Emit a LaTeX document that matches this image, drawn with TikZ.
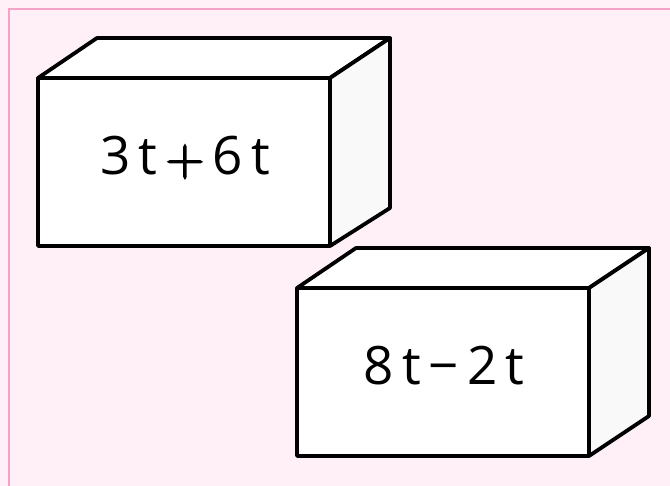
\documentclass[tikz,border=0pt]{standalone}
\usepackage{fontspec}
\newfontfamily\boxfont[LetterSpace=15]{Open Sans}
\newfontfamily\opfont[FakeBold=3]{Latin Modern Roman}
\definecolor{bgpink}{HTML}{FFF0F8}
\definecolor{edgepink}{HTML}{F4A2C8}
\definecolor{sidegray}{HTML}{F9F9F9}
\tikzset{
  boxline/.style={draw=black, line width=3.8pt, line join=round},
  boxlabel/.style={font=\boxfont\fontsize{53}{60}\selectfont, text=black, inner sep=0pt, anchor=base}
}
\begin{document}
\begin{tikzpicture}[x=1pt,y=-1pt]
\useasboundingbox (0,0) rectangle (670,486);
\fill[bgpink] (0,0) rectangle (670,486);
\begin{scope}
\clip (0,0) rectangle (670,486);
\draw[edgepink, line width=2.8pt] (9,9) rectangle (700,520);
\end{scope}
% box 1
\filldraw[boxline, fill=white] (38,78) -- (97,38) -- (390,38) -- (330,78) -- cycle;
\filldraw[boxline, fill=sidegray] (330,78) -- (390,38) -- (390,208) -- (330,246) -- cycle;
\filldraw[boxline, fill=white] (38,78) rectangle (330,246);
\node[boxlabel] (a) at (185,175) {3t\,{\opfont +}\,6t};
% box 2
\filldraw[boxline, fill=white] (297,288) -- (356,248) -- (649,248) -- (589,288) -- cycle;
\filldraw[boxline, fill=sidegray] (589,288) -- (649,248) -- (649,416) -- (589,456) -- cycle;
\filldraw[boxline, fill=white] (297,288) rectangle (589,456);
\node[boxlabel] (b) at (444,385) {8t−2t};
\end{tikzpicture}
\end{document}
